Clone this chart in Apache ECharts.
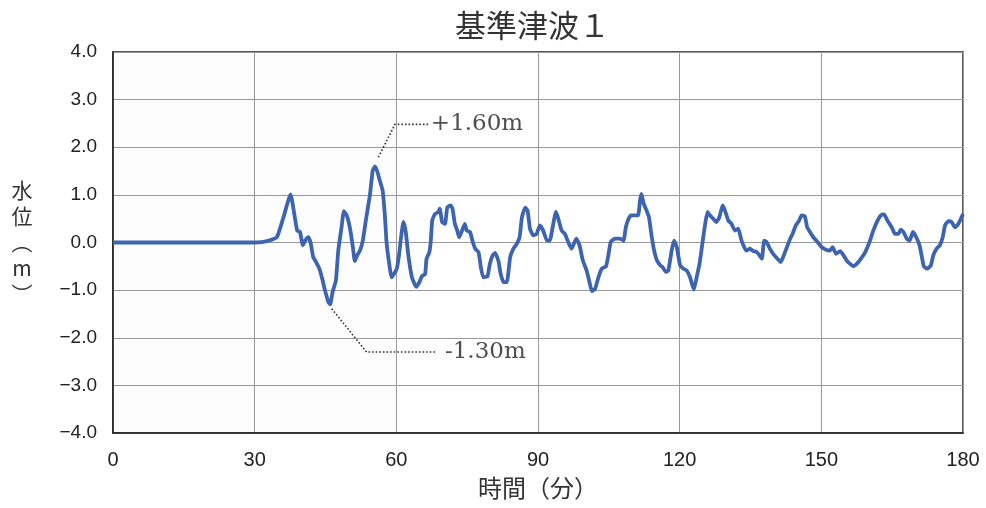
<!DOCTYPE html>
<html>
<head>
<meta charset="utf-8">
<script src="https://cdn.jsdelivr.net/npm/echarts@6/dist/echarts.min.js"></script>
<style>html,body{margin:0;padding:0;background:#fff}#c{width:986px;height:508px}</style>
</head>
<body>
<div id="c"></div>
<script>
const titleText = '基準津波１';
const xAxisName = '時間（分）';
const yAxisName = '水\n位\n︵\nm\n︶';
const xTicks = [0, 30, 60, 90, 120, 150, 180];
const yTicks = [-4, -3, -2, -1, 0, 1, 2, 3, 4];

const times = [0,10,20,30,31.5,33.0,34.7,36.1,37.6,38.5,39.0,39.6,40.2,40.7,41.4,41.9,42.4,43.0,43.7,44.4,44.9,45.6,46.0,46.5,47.2,47.7,48.4,48.9,49.5,50.2,50.8,51.2,51.7,52.3,52.9,53.6,54.4,55.0,55.5,56.0,56.5,57.1,57.6,57.9,58.3,59.0,59.5,60.1,60.6,61.0,61.5,62.0,62.5,63.3,64.2,64.9,65.4,66.1,66.4,67.0,67.3,67.6,68.2,68.9,69.2,69.7,70.3,70.8,71.5,71.9,72.4,72.9,73.3,73.8,74.5,74.9,75.6,76.2,76.7,77.4,77.9,78.4,79.3,79.8,80.4,80.9,81.6,82.1,82.7,83.4,84.1,84.8,85.5,86.1,86.6,87.3,87.8,88.3,89.0,89.7,90.4,91.1,91.9,92.5,93.1,93.8,94.3,95.0,95.7,96.4,97.1,98.1,98.8,99.5,100.3,100.9,101.4,102.1,102.8,103.5,104.4,104.9,105.4,106.3,107.4,108.1,108.6,109.1,109.7,110.5,111.2,111.6,111.9,112.4,113.0,113.5,114.1,114.6,115.2,115.9,116.4,117.1,117.6,118.3,118.8,119.4,120.1,120.8,121.5,122.2,123.0,123.6,124.2,124.7,125.4,125.9,126.4,127.1,127.8,128.4,129.1,129.6,130.3,131.0,131.7,132.4,133.1,134.1,134.9,135.6,136.3,136.9,137.4,137.9,138.4,139.1,139.8,140.7,141.4,141.9,142.7,143.4,143.9,144.6,145.3,145.8,146.5,147.0,147.6,148.3,149.2,150.1,151.0,151.8,152.4,153.1,154.0,154.7,155.4,156.1,156.8,157.5,158.4,159.3,160.2,161.0,161.9,162.6,163.3,164.0,164.9,165.6,166.3,166.8,167.4,168.1,168.7,169.4,170.1,170.8,171.3,171.7,172.4,173.2,173.7,174.4,175.1,175.7,176.2,176.9,177.6,178.3,179.0,180.0];
const levels = [0,0,0,0,0.01,0.04,0.11,0.53,1.01,0.53,0.25,0.22,-0.06,0.04,0.11,-0.03,-0.31,-0.41,-0.55,-0.80,-1.01,-1.25,-1.30,-1.04,-0.80,-0.17,0.32,0.66,0.57,0.29,-0.10,-0.39,-0.27,-0.17,0.04,0.50,0.99,1.51,1.60,1.48,1.30,1.09,0.53,0.04,-0.31,-0.73,-0.66,-0.55,-0.24,0.11,0.43,0.22,-0.24,-0.73,-0.93,-0.83,-0.71,-0.66,-0.34,-0.20,0.04,0.46,0.60,0.64,0.71,0.43,0.39,0.74,0.78,0.71,0.39,0.25,0.11,0.22,0.39,0.25,0.22,0.01,-0.13,-0.20,-0.52,-0.73,-0.71,-0.45,-0.27,-0.22,-0.38,-0.66,-0.83,-0.83,-0.31,-0.13,-0.03,0.11,0.53,0.73,0.67,0.29,0.15,0.18,0.36,0.25,0.04,0.04,0.32,0.64,0.50,0.25,0.18,0.01,-0.13,0.08,-0.06,-0.38,-0.59,-0.83,-1.02,-0.97,-0.73,-0.55,-0.50,-0.27,0.01,0.08,0.08,0.04,0.32,0.48,0.57,0.57,0.57,0.88,1.02,0.81,0.67,0.53,0.11,-0.17,-0.38,-0.48,-0.52,-0.62,-0.59,-0.17,0.04,-0.10,-0.48,-0.55,-0.59,-0.73,-0.99,-0.73,-0.45,-0.10,0.39,0.64,0.57,0.50,0.43,0.53,0.78,0.67,0.46,0.39,0.25,0.29,0.04,-0.17,-0.13,-0.18,-0.20,-0.27,-0.34,0.04,0.01,-0.13,-0.24,-0.34,-0.41,-0.31,-0.10,0.08,0.18,0.36,0.46,0.57,0.55,0.32,0.22,0.11,0.01,-0.10,-0.15,-0.17,-0.10,-0.24,-0.18,-0.27,-0.38,-0.45,-0.50,-0.45,-0.34,-0.20,0.01,0.25,0.46,0.57,0.59,0.46,0.32,0.18,0.18,0.27,0.22,0.08,0.04,0.22,0.11,-0.06,-0.31,-0.50,-0.55,-0.48,-0.27,-0.13,-0.06,0.11,0.36,0.45,0.43,0.32,0.39,0.60];

// annotation leader lines (data coords) and labels
const maxLeaderT = [56.2, 59.7, 67.1];
const maxLeaderV = [1.79, 2.48, 2.48];
const minLeaderT = [46.3, 53.7, 68.6];
const minLeaderV = [-1.39, -2.30, -2.30];
const maxLabel = '+1.60m';
const minLabel = '-1.30m';

const waveData = times.map((t, i) => [t, levels[i]]);
const leaderData = maxLeaderT.map((t, i) => [t, maxLeaderV[i]])
  .concat([[null, null]])
  .concat(minLeaderT.map((t, i) => [t, minLeaderV[i]]));

const fmtY = v => (v < 0 ? '\u2212' + Math.abs(v).toFixed(1) : v.toFixed(1));

const chart = echarts.init(document.getElementById('c'));
chart.setOption({
  animation: false,
  backgroundColor: '#ffffff',
  title: {
    text: titleText,
    left: 450,
    top: 5,
    textStyle: { fontFamily: 'Noto Sans CJK JP', fontSize: 31, fontWeight: 'normal', color: '#333' }
  },
  grid: { left: 113, right: 23, top: 52, bottom: 75, show: true, borderColor: '#222', borderWidth: 1.5, backgroundColor: 'transparent' },
  xAxis: {
    type: 'value', min: xTicks[0], max: xTicks[xTicks.length - 1], interval: 30,
    name: xAxisName, nameLocation: 'middle', nameGap: 43,
    nameTextStyle: { fontFamily: 'Noto Sans CJK JP', fontSize: 24, color: '#333', padding: [0, 0, 0, 0] },
    axisLine: { show: true, onZero: false, lineStyle: { color: '#222', width: 1.5 } },
    axisTick: { show: false },
    axisLabel: { margin: 17, fontFamily: 'Liberation Sans', fontSize: 20, color: '#222' },
    splitLine: { show: true, lineStyle: { color: '#999', width: 1 } }
  },
  yAxis: {
    type: 'value', min: yTicks[0], max: yTicks[yTicks.length - 1], interval: 1,
    name: yAxisName, nameLocation: 'middle', nameGap: 91, nameRotate: 0,
    nameTextStyle: { fontFamily: 'Noto Sans CJK JP', fontSize: 21, color: '#333', lineHeight: 26, align: 'center', verticalAlign: 'middle', padding: [0, 0, 10, 0] },
    axisLine: { show: true, lineStyle: { color: '#222', width: 1.5 } },
    axisTick: { show: false },
    axisLabel: { margin: 16, fontFamily: 'Liberation Sans', fontSize: 19, color: '#222', formatter: fmtY },
    splitLine: { show: true, lineStyle: { color: '#999', width: 1 } }
  },
  series: [
    {
      type: 'line', data: waveData, showSymbol: false, smooth: 0.15,
      lineStyle: { color: '#3c64b0', width: 3.8 },
      itemStyle: { color: '#3c64b0' },
      z: 5,
      markArea: {
        silent: true,
        itemStyle: { color: 'rgba(0,0,0,0.007)' },
        data: [[{ xAxis: 0 }, { xAxis: 60 }]]
      }
    },
    {
      type: 'line', data: leaderData, showSymbol: false, connectNulls: false,
      lineStyle: { color: '#333', width: 1.6, type: [1.6, 2] }, z: 4, silent: true
    },
    {
      type: 'scatter', symbolSize: 0, silent: true,
      data: [
        { value: [maxLeaderT[2], maxLeaderV[2]], label: { formatter: maxLabel } },
        { value: [minLeaderT[2], minLeaderV[2]], label: { formatter: minLabel, distance: 8 } }
      ],
      label: { show: true, position: 'right', distance: 1, fontFamily: 'DejaVu Serif', fontSize: 23, color: '#222' }
    }
  ]
});
</script>
</body>
</html>
